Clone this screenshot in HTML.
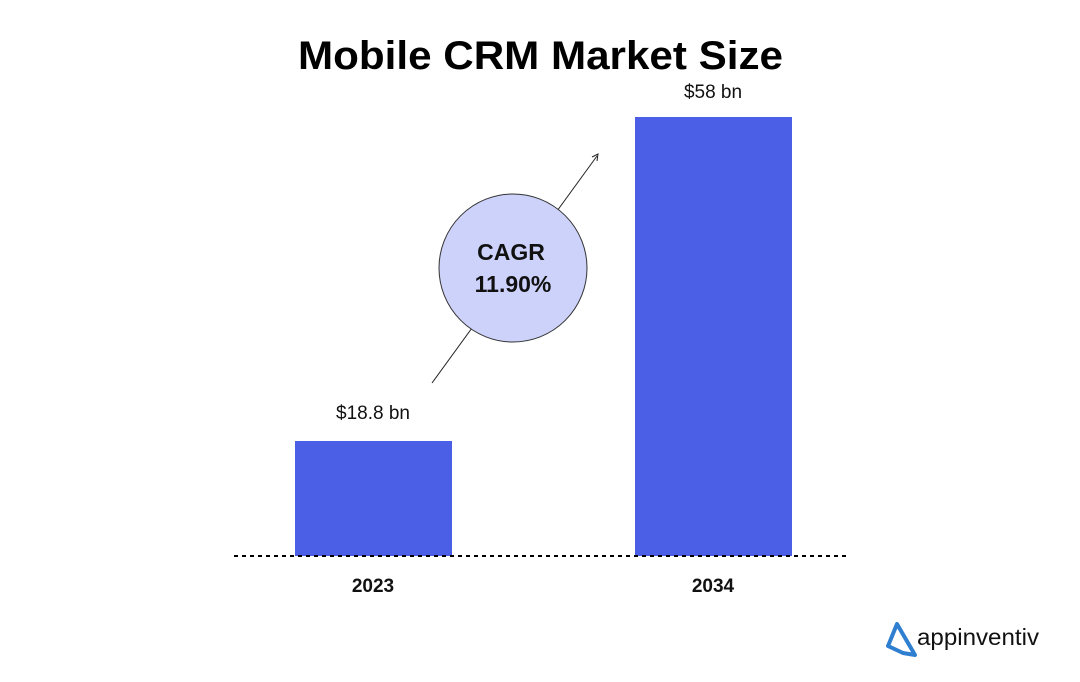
<!DOCTYPE html>
<html><head><style>
body{margin:0;background:#fff;}
svg{display:block;}
text{font-family:"Liberation Sans",sans-serif;}
</style></head><body>
<svg width="1080" height="682" viewBox="0 0 1080 682">
<text x="298" y="69" font-size="40" font-weight="bold" fill="#000" textLength="485" lengthAdjust="spacingAndGlyphs">Mobile CRM Market Size</text>
<rect x="295" y="441" width="157" height="115" fill="#4A5FE6"/>
<rect x="635" y="117" width="157" height="439" fill="#4A5FE6"/>
<line x1="234" y1="556" x2="846" y2="556" stroke="#000" stroke-width="2" stroke-dasharray="4,4"/>
<text x="373" y="419" text-anchor="middle" font-size="19" fill="#111">$18.8 bn</text>
<text x="713" y="98" text-anchor="middle" font-size="19" fill="#111">$58 bn</text>
<text x="373" y="592" text-anchor="middle" font-size="19" font-weight="bold" fill="#111">2023</text>
<text x="713" y="592" text-anchor="middle" font-size="19" font-weight="bold" fill="#111">2034</text>
<line x1="432" y1="383" x2="597" y2="156" stroke="#222" stroke-width="1"/>
<path d="M592,157 L598,154 L597,161" fill="none" stroke="#222" stroke-width="1"/>
<circle cx="513" cy="268" r="74" fill="#CDD2FB" stroke="#333" stroke-width="1"/>
<text x="511" y="260" text-anchor="middle" font-size="23" font-weight="bold" fill="#111">CAGR</text>
<text x="513" y="292" text-anchor="middle" font-size="23" font-weight="bold" fill="#111">11.90%</text>
<path d="M897,624 L915,655 L903,653 L888,646 Z" fill="none" stroke="#2F7FD0" stroke-width="4" stroke-linejoin="round"/>
<text x="917" y="645" font-size="23" fill="#111" textLength="122" lengthAdjust="spacingAndGlyphs">appinventiv</text>
</svg>
</body></html>
